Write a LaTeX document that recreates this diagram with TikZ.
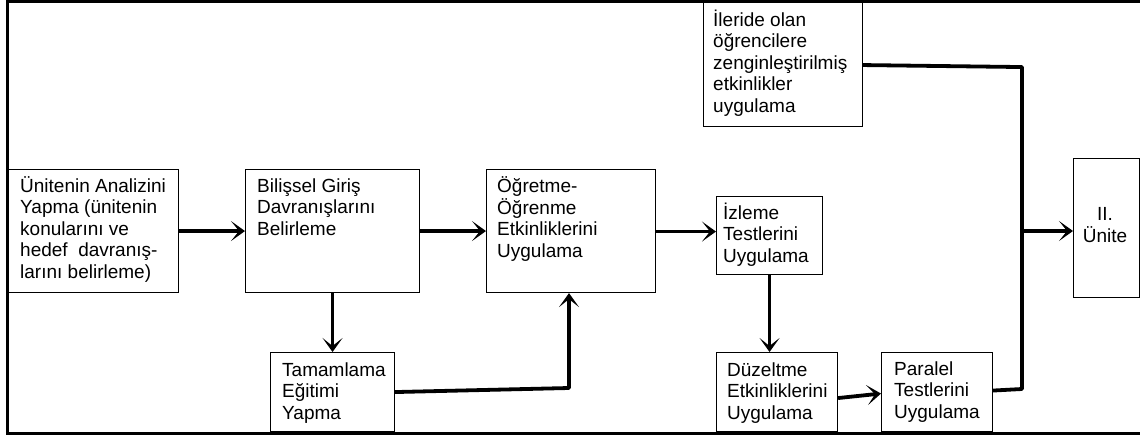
\documentclass[tikz,border=0pt]{standalone}
\usepackage{fontspec}
\setmainfont{Liberation Sans}
\usetikzlibrary{arrows.meta}

% text block whose reference point is the baseline of its first line
\newcommand{\topleft}[1]{\begin{tabular}[t]{@{}l@{}}#1\end{tabular}}
\newcommand{\topcenter}[1]{\begin{tabular}[t]{@{}c@{}}#1\end{tabular}}

\begin{document}
\begin{tikzpicture}[x=1pt, y=-1pt,
  box/.style={draw, line width=1.1pt, rectangle, inner sep=0pt, anchor=north west},
  txt/.style={anchor=base west, inner sep=0pt,
              font=\fontsize{19}{21.6}\selectfont},
  ctxt/.style={anchor=base, inner sep=0pt,
              font=\fontsize{19}{22}\selectfont},
  flow/.style={line width=3.8pt, line join=round},
  arr/.style={flow, -{Stealth[length=14pt, width=20pt, inset=8pt]}},
  frameline/.style={line width=3pt}]

\useasboundingbox (0,0) rectangle (1140,439);

% outer frame (open on the right)
\draw[frameline] (1140,1.5) -- (7,1.5) -- (7,433) -- (1140,433);

% boxes
\node[box, minimum width=170pt, minimum height=123pt] (a) at (8,169) {};
\node[box, minimum width=174pt, minimum height=123pt] (b) at (245,169) {};
\node[box, minimum width=169pt, minimum height=123pt] (c) at (486,169) {};
\node[box, minimum width=106pt, minimum height=78pt]  (d) at (716,196) {};
\node[box, minimum width=121pt, minimum height=79pt]  (e) at (716,352) {};
\node[box, minimum width=111pt, minimum height=79pt]  (f) at (881,352) {};
\node[box, minimum width=124pt, minimum height=79pt]  (i) at (270,352) {};
\node[box, minimum width=159pt, minimum height=124pt] (h) at (703,2) {};
\node[box, minimum width=66pt,  minimum height=139pt] (g) at (1073,158) {};

% box texts
\node[txt] (ta) at (20,192) {\topleft{Ünitenin Analizini\\Yapma (ünitenin\\konularını ve\\hedef\ \ davranış-\\larını belirleme)}};
\node[txt] (tb) at (257,192) {\topleft{Bilişsel Giriş\\Davranışlarını\\Belirleme}};
\node[txt] (tc) at (497,192) {\topleft{Öğretme-\\Öğrenme\\Etkinliklerini\\Uygulama}};
\node[txt] (td) at (723,219) {\topleft{İzleme\\Testlerini\\Uygulama}};
\node[txt] (te) at (727,376) {\topleft{Düzeltme\\Etkinliklerini\\Uygulama}};
\node[txt] (tf) at (894,375) {\topleft{Paralel\\Testlerini\\Uygulama}};
\node[txt] (ti) at (282,376) {\topleft{Tamamlama\\Eğitimi\\Yapma}};
\node[txt] (th) at (713,26) {\topleft{İleride olan\\öğrencilere\\zenginleştirilmiş\\etkinlikler\\uygulama}};
\node[ctxt] (tg) at (1105,220) {\topcenter{II.\\Ünite}};

% helper points for the connectors
\coordinate (ci) at (569,388);
\coordinate (jf) at (1022,389);
\coordinate (jh) at (1022,66);
\coordinate (jg) at (1022,231);

% connectors
\draw[arr] (a.east) -- (b.west);
\draw[arr] (b.east) -- (c.west);
\draw[arr] ([yshift=-0.5pt]c.east) -- ([yshift=-0.5pt]c.east -| d.west);
\draw[arr] (b.south) -- (i.north);
\draw[arr] (i.east) -- (ci) -- (ci |- c.south);
\draw[arr] (d.south) -- (d.south |- e.north);
\draw[arr] ([yshift=-6pt]e.east) -- ([yshift=-1.5pt]f.west);
\draw[flow] ([yshift=-0.5pt]h.east -| h.east) -- ([yshift=-2.5pt]h.east -| jh) -- (jf) -- ([yshift=1.5pt]f.east);
\draw[arr] (jg) -- (jg -| g.west);

\end{tikzpicture}
\end{document}
